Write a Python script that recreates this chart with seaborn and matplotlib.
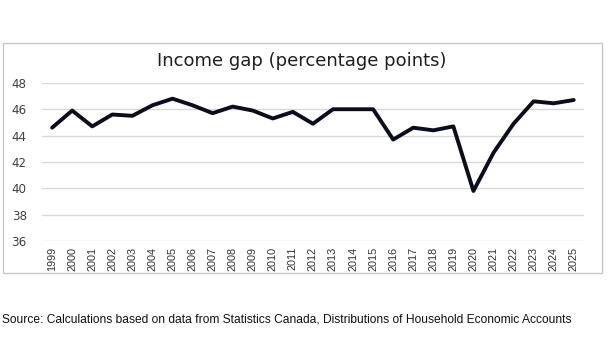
import matplotlib
matplotlib.use("Agg")
import matplotlib.pyplot as plt
from matplotlib.patches import Rectangle
import seaborn as sns
import pandas as pd

years = [str(y) for y in range(1999, 2026)]
income_gap = [44.6, 45.9, 44.7, 45.6, 45.5, 46.3, 46.8, 46.3, 45.7, 46.2,
              45.9, 45.3, 45.8, 44.9, 46.0, 46.0, 46.0, 43.7, 44.6, 44.4,
              44.7, 39.8, 42.7, 44.9, 46.6, 46.45, 46.7]
y_ticks = [36, 38, 40, 42, 44, 46, 48]

title = "Income gap (percentage points)"
source = ("Source: Calculations based on data from Statistics Canada, "
          "Distributions of Household Economic Accounts")

sns.set_theme(style="white")
plt.rcParams["font.family"] = ["DejaVu Sans"]

df = pd.DataFrame({"pos": range(len(years)), "gap": income_gap})

fig = plt.figure(figsize=(6.10, 3.41), dpi=100)
fig.patch.set_facecolor("white")

# chart frame
fig.patches.append(Rectangle((0.005, 0.199), 0.982, 0.675, transform=fig.transFigure,
                             fill=False, edgecolor="#c8c8c8", linewidth=1.0))

ax = fig.add_axes([0.069, 0.293, 0.888, 0.464])
for yt in y_ticks:
    ax.axhline(yt, color="#d9d9d9", linewidth=1.0, zorder=0)

sns.lineplot(data=df, x="pos", y="gap", ax=ax, color="#0b0d1c", linewidth=2.8,
             zorder=3)

ax.set_xlim(-0.5, len(years) - 0.5)
ax.set_ylim(36, 48)
ax.set_yticks(y_ticks)
ax.set_yticklabels([str(v) for v in y_ticks], fontsize=8.6, color="#404040")
ax.set_xticks(range(len(years)))
ax.set_xticklabels(years, rotation=90, fontsize=7.8, color="#333333",
                   family=["Liberation Sans Narrow", "Liberation Sans"])
ax.tick_params(axis="both", length=0, pad=4)
ax.tick_params(axis="y", pad=11)
ax.set_xlabel("")
ax.set_ylabel("")
ax.grid(False)
for s in ax.spines.values():
    s.set_visible(False)

fig.text(0.495, 0.822, title, ha="center", va="center", fontsize=13,
         color="#1f1f1f", family=["DejaVu Sans"])
fig.text(0.004, 0.062, source, ha="left", va="center", fontsize=8.65,
         color="#111111", family=["Liberation Sans", "DejaVu Sans"])

fig.savefig("out.png", dpi=100, facecolor="white")
